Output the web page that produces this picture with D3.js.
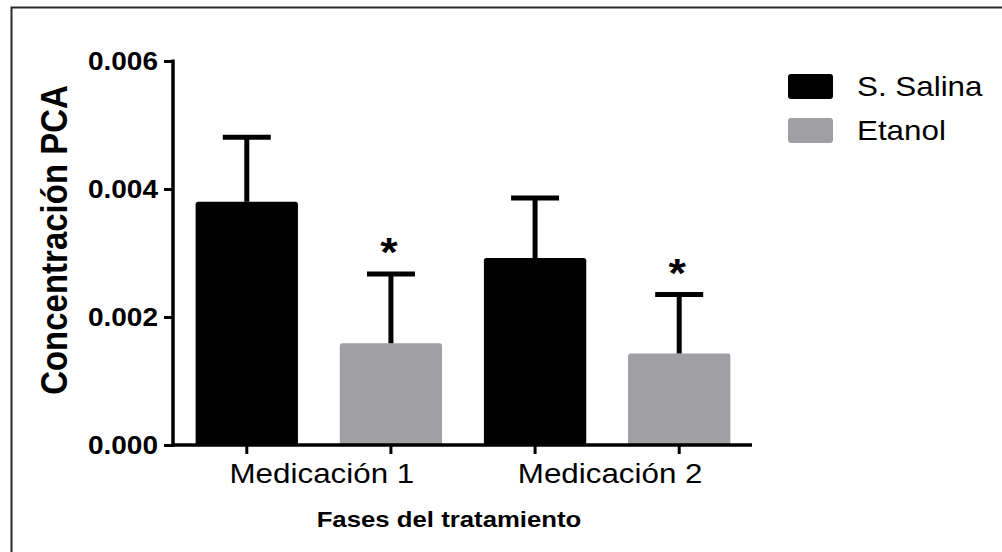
<!DOCTYPE html>
<html>
<head>
<meta charset="utf-8">
<script src="https://cdn.jsdelivr.net/npm/d3@7"></script>
<style>
  html, body { margin: 0; padding: 0; background: #fff; }
  svg { display: block; }
  text { font-family: "Liberation Sans", Arial, Helvetica, sans-serif; fill: #000; }
</style>
</head>
<body>
<svg id="chart" width="1002" height="552"></svg>
<script>
// Treatment phases and groups
const categories = ["Medicación 1", "Medicación 2"];
const seriesNames = ["S. Salina", "Etanol"];
// Mean PCA concentration per phase
const salinaMeans = [0.0038, 0.00292];
const etanolMeans = [0.00159, 0.00143];
// Upper error (SD) per phase
const salinaErr = [0.00101, 0.00094];
const etanolErr = [0.00108, 0.00092];
// Significance marks above the ethanol bars
const etanolMarks = ["*", "*"];
// Y axis ticks
const yTicks = [0, 0.002, 0.004, 0.006];
const yTitle = "Concentración PCA";
const xTitle = "Fases del tratamiento";

const colors = { "S. Salina": "#000000", "Etanol": "#a0a0a4" };
const sx = 1.12; // horizontal text stretch

const svg = d3.select("#chart");

// outer frame
svg.append("rect")
  .attr("x", 11.5).attr("y", 7.5)
  .attr("width", 1100).attr("height", 700)
  .attr("fill", "none").attr("stroke", "#2a2a2a").attr("stroke-width", 2);

// flat list of bars
const bars = [];
categories.forEach((c, i) => {
  bars.push({ key: c + "|" + seriesNames[0], cat: c, series: seriesNames[0], mean: salinaMeans[i], err: salinaErr[i], mark: "" });
  bars.push({ key: c + "|" + seriesNames[1], cat: c, series: seriesNames[1], mean: etanolMeans[i], err: etanolErr[i], mark: etanolMarks[i] });
});

const y = d3.scaleLinear().domain([0, 0.006]).range([445, 61]);
const x = d3.scaleBand()
  .domain(bars.map(d => d.key))
  .range([174, 752])
  .paddingInner(0.29)
  .paddingOuter(0.15);

// bars
svg.append("g").selectAll("rect")
  .data(bars).join("rect")
  .attr("x", d => x(d.key))
  .attr("y", d => y(d.mean))
  .attr("width", x.bandwidth())
  .attr("height", d => y(0) - y(d.mean))
  .attr("rx", 2.5)
  .attr("fill", d => colors[d.series]);

// error bars (upper only)
const eb = svg.append("g").attr("stroke", "#000");
eb.selectAll("line.stem")
  .data(bars).join("line")
  .attr("class", "stem")
  .attr("x1", d => x(d.key) + x.bandwidth() / 2)
  .attr("x2", d => x(d.key) + x.bandwidth() / 2)
  .attr("y1", d => y(d.mean))
  .attr("y2", d => y(d.mean + d.err))
  .attr("stroke-width", 5);
eb.selectAll("line.cap")
  .data(bars).join("line")
  .attr("class", "cap")
  .attr("x1", d => x(d.key) + x.bandwidth() / 2 - 24)
  .attr("x2", d => x(d.key) + x.bandwidth() / 2 + 24)
  .attr("y1", d => y(d.mean + d.err))
  .attr("y2", d => y(d.mean + d.err))
  .attr("stroke-width", 5);

// significance marks
svg.append("g").selectAll("text")
  .data(bars.filter(d => d.mark)).join("text")
  .attr("transform", d => `translate(${x(d.key) + x.bandwidth() / 2 - 2},${y(d.mean + d.err) - 8}) scale(${sx},1)`)
  .attr("text-anchor", "middle")
  .attr("font-size", 40)
  .attr("font-weight", "bold")
  .text(d => d.mark);

// Y axis
const yAxis = svg.append("g")
  .attr("transform", "translate(173,0)")
  .call(d3.axisLeft(y).tickValues(yTicks).tickFormat(d3.format(".3f")).tickSize(9).tickSizeOuter(0));
yAxis.select(".domain").attr("stroke", "#000").attr("stroke-width", 3.5).attr("d", `M0,${y(0.006) - 1.5}V${y(0) + 1.5}`);
yAxis.selectAll(".tick line").attr("stroke", "#000").attr("stroke-width", 3);
yAxis.selectAll(".tick text")
  .attr("x", null).attr("dy", null)
  .attr("transform", `translate(-15,8) scale(${sx},1)`)
  .attr("text-anchor", "end")
  .attr("font-size", 25)
  .attr("font-weight", "bold")
  .attr("font-family", "'Liberation Sans', Arial, sans-serif")
  .attr("fill", "#000");

// X axis with ticks under each bar
const xAxis = svg.append("g")
  .attr("transform", "translate(0,445)")
  .call(d3.axisBottom(x).tickSize(9).tickSizeOuter(0).tickFormat(""));
xAxis.select(".domain").attr("stroke", "#000").attr("stroke-width", 3.5).attr("d", "M172,0H752");
xAxis.selectAll(".tick line").attr("stroke", "#000").attr("stroke-width", 3);

// category labels centred under each pair
svg.append("g").selectAll("text")
  .data(categories).join("text")
  .attr("transform", c => {
    const a = x(c + "|" + seriesNames[0]), b = x(c + "|" + seriesNames[1]) + x.bandwidth();
    return `translate(${(a + b) / 2 + 3},483) scale(${sx},1)`;
  })
  .attr("text-anchor", "middle")
  .attr("font-size", 28)
  .text(c => c);

// axis titles
svg.append("text")
  .attr("transform", `translate(449,527) scale(${sx},1)`)
  .attr("text-anchor", "middle")
  .attr("font-size", 23)
  .attr("font-weight", "bold")
  .text(xTitle);

svg.append("text")
  .attr("transform", `translate(67,240) scale(${sx},1) rotate(-90)`)
  .attr("text-anchor", "middle")
  .attr("font-size", 33)
  .attr("font-weight", "bold")
  .text(yTitle);

// legend
const legend = svg.append("g").selectAll("g")
  .data(seriesNames).join("g")
  .attr("transform", (d, i) => `translate(788,${74 + i * 44})`);
legend.append("rect")
  .attr("width", 45).attr("height", 25).attr("rx", 3)
  .attr("fill", d => colors[d]);
legend.append("text")
  .attr("transform", `translate(69,22) scale(${sx},1)`)
  .attr("font-size", 28)
  .text(d => d);
</script>
</body>
</html>
